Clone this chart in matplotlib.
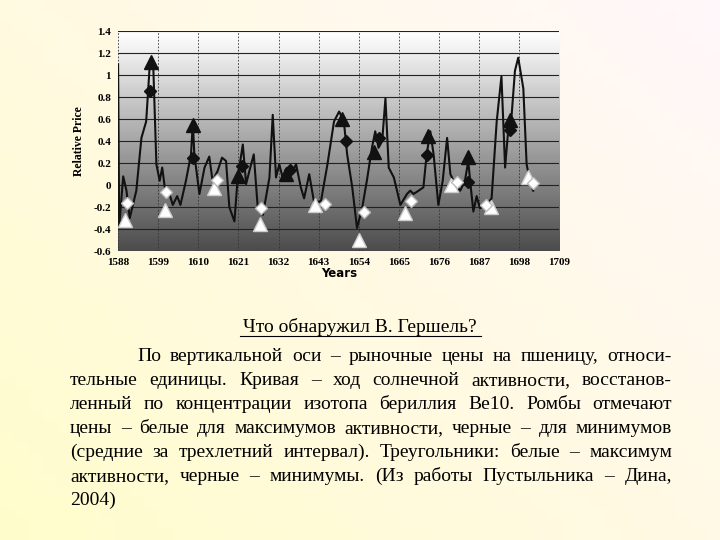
import matplotlib
matplotlib.use("Agg")
import matplotlib.pyplot as plt
import numpy as np

years = [1588, 1588.3, 1589.4, 1590.3, 1591.2, 1593, 1594.4, 1595.7, 1596.7, 1597.6, 1598.5, 1599.4,
         1600.1, 1600.8, 1602.1, 1603, 1604.2, 1605.1, 1606.6, 1608, 1608.5, 1608.9, 1610.3, 1611.7,
         1613, 1613.9, 1615.3, 1616.5, 1617.6, 1618.5, 1619.9, 1620.8, 1622.2, 1623.1, 1624, 1625.2,
         1626.3, 1627.7, 1629.5, 1630.4, 1631.3, 1632.2, 1633.1, 1635.4, 1636.8, 1638.1, 1639, 1640.4,
         1641.7, 1643.6, 1645.4, 1647.2, 1648.6, 1649.9, 1650.8, 1652.2, 1653.5, 1654.9, 1656.2, 1657.6,
         1658.5, 1659.4, 1660.4, 1661.3, 1662.2, 1663.6, 1665.4, 1667.2, 1668.1, 1669, 1670.4, 1671.7,
         1672.6, 1673.6, 1674.5, 1675.8, 1677, 1678.2, 1679.1, 1680.4, 1681.8, 1683.1, 1684, 1684.7,
         1685.4, 1686.3, 1687.2, 1689, 1690.4, 1691.8, 1693.1, 1694.1, 1695, 1695.9, 1696.8, 1697.7,
         1699.1, 1700, 1700.9, 1701.8]
activity = [1.1, -0.38, 0.08, -0.05, -0.3, -0.05, 0.43, 0.58, 1.1, 1.13, 0.19, 0.04,
            0.16, -0.02, -0.08, -0.18, -0.1, -0.18, 0.04, 0.28, 0.58, 0.28, -0.08, 0.16,
            0.26, 0.04, 0.13, 0.25, 0.22, -0.2, -0.33, 0.07, 0.37, 0.01, 0.13, 0.28,
            -0.21, -0.27, 0.07, 0.64, 0.07, 0.19, 0.07, 0.1, 0.19, -0.02, -0.12, 0.1,
            -0.15, -0.15, 0.19, 0.58, 0.67, 0.58, 0.28, -0.02, -0.39, -0.21, 0.04, 0.34,
            0.49, 0.34, 0.4, 0.79, 0.16, 0.07, -0.18, -0.08, -0.05, -0.08, -0.05, -0.02,
            0.28, 0.49, 0.28, -0.18, 0.04, 0.43, 0.1, 0.01, -0.05, 0.04, 0.22, -0.02,
            -0.24, -0.1, -0.21, -0.18, -0.12, 0.58, 0.99, 0.16, 0.52, 0.64, 1.04, 1.16,
            0.88, 0.19, 0.04, -0.05]

black_tri_x = [1597, 1608.5, 1621, 1634, 1649.3, 1658.2, 1673, 1683.8, 1695.5]
black_tri_y = [1.12, 0.55, 0.08, 0.1, 0.6, 0.3, 0.45, 0.26, 0.59]
black_dia_x = [1596.8, 1608.5, 1622, 1635, 1650.5, 1659.6, 1672.6, 1683.8, 1695.5]
black_dia_y = [0.86, 0.25, 0.17, 0.14, 0.4, 0.43, 0.27, 0.03, 0.5]
white_tri_x = [1590, 1601, 1614.2, 1627, 1642, 1654, 1666.7, 1679.3, 1690.2, 1700.3]
white_tri_y = [-0.32, -0.23, -0.03, -0.35, -0.18, -0.5, -0.25, 0.0, -0.2, 0.07]
white_dia_x = [1590.5, 1601.2, 1615.1, 1627.1, 1644.6, 1655.3, 1668.3, 1680.9, 1689, 1701.7]
white_dia_y = [-0.16, -0.06, 0.05, -0.21, -0.17, -0.24, -0.14, 0.03, -0.18, 0.02]

year_ticks = list(range(1588, 1710, 11))
price_ticks = [-0.6, -0.4, -0.2, 0, 0.2, 0.4, 0.6, 0.8, 1, 1.2, 1.4]
price_labels = ["-0.6", "-0.4", "-0.2", "0", "0.2", "0.4", "0.6", "0.8", "1", "1.2", "1.4"]

title = "Что обнаружил В. Гершель?"
para = ["По вертикальной оси – рыночные цены на пшеницу, относи-",
        "тельные единицы. Кривая – ход солнечной активности, восстанов-",
        "ленный по концентрации изотопа бериллия Be10. Ромбы отмечают",
        "цены – белые для максимумов активности, черные – для минимумов",
        "(средние за трехлетний интервал). Треугольники: белые – максимум",
        "активности, черные – минимумы. (Из работы Пустыльника – Дина,",
        "2004)"]

fig = plt.figure(figsize=(7.2, 5.4), dpi=100)
bg = fig.add_axes([0, 0, 1, 1], zorder=-10)
gx, gy = np.meshgrid(np.linspace(0, 1, 50), np.linspace(0, 1, 50))
g = np.clip(0.55 * gx + 0.45 * (1 - gy), 0, 1)
col = np.dstack([np.ones_like(g), 0.99 - 0.02 * g, 0.80 + 0.18 * g])
bg.imshow(col, extent=[0, 1, 0, 1], aspect="auto")
bg.axis("off")

ax = fig.add_axes([0.164, 0.535, 0.613, 0.407])
ax.set_xlim(1588, 1709)
ax.set_ylim(-0.6, 1.4)
grad = np.linspace(0.3, 1.0, 100).reshape(-1, 1)
ax.imshow(grad, cmap="gray", vmin=0, vmax=1, extent=[1588, 1709, -0.6, 1.4],
          aspect="auto", origin="lower", zorder=0)
for v in price_ticks:
    ax.axhline(v, color="#222", lw=0.8, zorder=1)
for v in year_ticks:
    ax.axvline(v, color="#333", lw=0.6, ls=(0, (2, 2)), zorder=1)
ax.plot(years, activity, color="#111", lw=1.5, zorder=2)
ax.plot(black_tri_x, black_tri_y, "^", ms=10, color="#111", ls="none", zorder=3)
ax.plot(black_dia_x, black_dia_y, "D", ms=6.5, color="#111", ls="none", zorder=4)
ax.plot(white_tri_x, white_tri_y, "^", ms=10, mfc="white", mec="#ccc", ls="none", zorder=3)
ax.plot(white_dia_x, white_dia_y, "D", ms=6.5, mfc="white", mec="#bbb", ls="none", zorder=4)
ax.set_xticks(year_ticks)
ax.set_yticks(price_ticks)
ax.set_yticklabels(price_labels)
ax.tick_params(length=0, labelsize=8, pad=5)
for lab in ax.get_xticklabels() + ax.get_yticklabels():
    lab.set_fontfamily("Liberation Serif")
    lab.set_fontweight("bold")
ax.set_xlabel("Years", fontsize=8.5, fontweight="bold", labelpad=0)
ax.set_ylabel("Relative Price", fontsize=8.5, fontweight="bold", fontfamily="Liberation Serif", labelpad=6)
for s in ax.spines.values():
    s.set_visible(False)

serif = "Liberation Serif"
fs = 14
fig.text(0.5, 1 - 332 / 540, title, ha="center", va="baseline", fontsize=fs, fontfamily=serif)
fig.add_artist(plt.Line2D([240 / 720, 481 / 720], [1 - 336 / 540] * 2, color="black", lw=0.8))

fig.canvas.draw()
r = fig.canvas.get_renderer()
left, right = 70, 672
for i, line in enumerate(para):
    y = 1 - (361 + 24 * i) / 540
    x0 = 137 if i == 0 else left
    words = line.split(" ")
    if i == len(para) - 1:
        fig.text(x0 / 720, y, line, va="baseline", fontsize=fs, fontfamily=serif)
        continue
    ws = []
    for w in words:
        t = fig.text(0, 0, w, fontsize=fs, fontfamily=serif)
        ws.append(t.get_window_extent(r).width)
        t.remove()
    gap = (right - x0 - sum(ws)) / (len(words) - 1)
    x = x0
    for w, wd in zip(words, ws):
        fig.text(x / 720, y, w, va="baseline", fontsize=fs, fontfamily=serif)
        x += wd + gap

fig.savefig("out.png", dpi=100)
